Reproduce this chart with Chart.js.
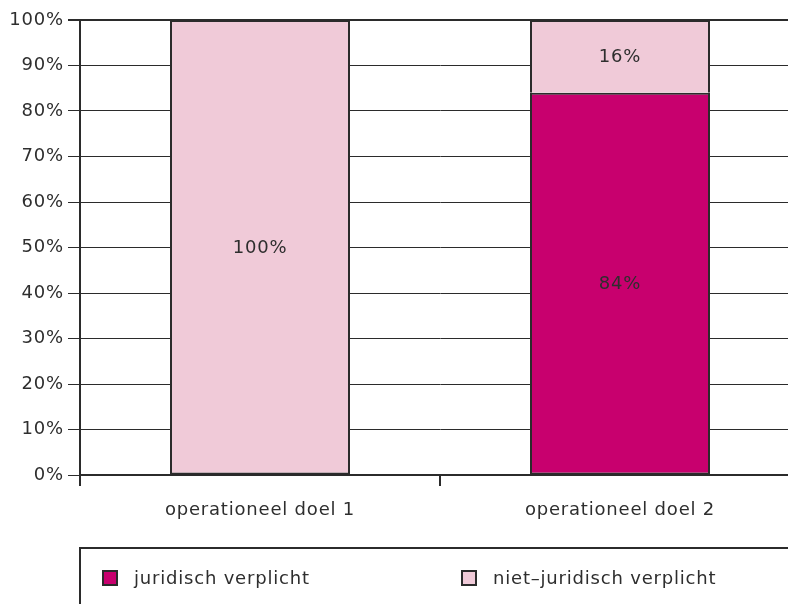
<!DOCTYPE html>
<html>
<head>
<meta charset="utf-8">
<script src="https://cdn.jsdelivr.net/npm/chart.js@4"></script>
<style>
  html, body { margin: 0; padding: 0; background: #fff; overflow: hidden; }
  #wrap { width: 800px; height: 604px; }
</style>
</head>
<body>
<div id="wrap"><canvas id="doelChart" width="800" height="604"></canvas></div>
<script>
// data
const categories = ['operationeel doel 1', 'operationeel doel 2'];
const juridisch = [0, 84];
const nietJuridisch = [100, 16];
const yTicks = [0, 10, 20, 30, 40, 50, 60, 70, 80, 90, 100];

const ink = '#2b2b2b';
const txt = '#2e2e2e';
const fam = '"DejaVu Sans", "Liberation Sans", sans-serif';
const font = { family: fam, size: 18 };
const spacing = '0.8px';

// slightly wider tracking like the original typeface
const tracking = {
    id: 'tracking',
    beforeDraw(chart) { chart.ctx.letterSpacing = spacing; }
};

// labels inside the bars
const barLabels = {
    id: 'barLabels',
    afterDatasetsDraw(chart) {
        const c = chart.ctx;
        c.save();
        c.letterSpacing = spacing;
        c.fillStyle = txt;
        c.font = '18px ' + fam;
        c.textAlign = 'center';
        c.textBaseline = 'middle';
        chart.data.datasets.forEach((ds, i) => {
            chart.getDatasetMeta(i).data.forEach((bar, j) => {
                if (!ds.data[j]) return;
                const mid = (bar.y + bar.base) / 2;
                c.fillText(ds.data[j] + '%', bar.x, mid + 1);
            });
        });
        c.restore();
    }
};

// legend in a box below the chart
const boxLegend = {
    id: 'boxLegend',
    afterDraw(chart) {
        const c = chart.ctx;
        c.save();
        c.letterSpacing = spacing;
        c.strokeStyle = ink;
        c.lineWidth = 2;
        c.beginPath();
        c.moveTo(80, 604);
        c.lineTo(80, 548);
        c.lineTo(chart.width, 548);
        c.stroke();
        const xs = [103, 462];
        c.font = '18px ' + fam;
        c.textBaseline = 'middle';
        chart.data.datasets.forEach((ds, i) => {
            c.fillStyle = ds.backgroundColor;
            c.fillRect(xs[i], 571, 14, 14);
            c.strokeRect(xs[i], 571, 14, 14);
            c.fillStyle = txt;
            c.fillText(ds.label, xs[i] + 31, 579);
        });
        c.restore();
    }
};

new Chart(document.getElementById('doelChart'), {
    type: 'bar',
    data: {
        labels: categories,
        datasets: [
            {
                label: 'juridisch verplicht',
                data: juridisch,
                backgroundColor: '#c8006e',
                borderColor: ink,
                borderWidth: 2,
                borderSkipped: false
            },
            {
                label: 'niet\u2013juridisch verplicht',
                data: nietJuridisch,
                backgroundColor: '#f0cad8',
                borderColor: ink,
                borderWidth: 2,
                // share the edge with the bar below it
                borderSkipped: ctx => juridisch[ctx.dataIndex] > 0 ? 'start' : false
            }
        ]
    },
    options: {
        responsive: false,
        animation: false,
        layout: { padding: { top: 20, left: 0, right: 0, bottom: 0 } },
        datasets: { bar: { categoryPercentage: 1, barPercentage: 0.5 } },
        plugins: {
            legend: { display: false },
            tooltip: { enabled: false }
        },
        scales: {
            x: {
                stacked: true,
                afterFit(scale) { scale.height = 129; },
                grid: {
                    offset: true,
                    drawOnChartArea: false,
                    drawTicks: true,
                    tickLength: 11,
                    color: ink,
                    lineWidth: 2
                },
                border: { display: true, color: ink, width: 2 },
                ticks: { color: txt, font: font, padding: 14 }
            },
            y: {
                stacked: true,
                min: 0,
                max: 100,
                afterFit(scale) { scale.width = 80; },
                afterBuildTicks(scale) {
                    scale.ticks = yTicks.map(v => ({ value: v }));
                },
                grid: {
                    color: ink,
                    lineWidth: ctx => (ctx.tick && ctx.tick.value === 100) ? 2 : 1,
                    tickLength: 12
                },
                border: { display: true, color: ink, width: 2 },
                ticks: {
                    color: txt,
                    font: font,
                    padding: 4,
                    callback: v => v + '%'
                }
            }
        }
    },
    plugins: [tracking, barLabels, boxLegend]
});
</script>
</body>
</html>
